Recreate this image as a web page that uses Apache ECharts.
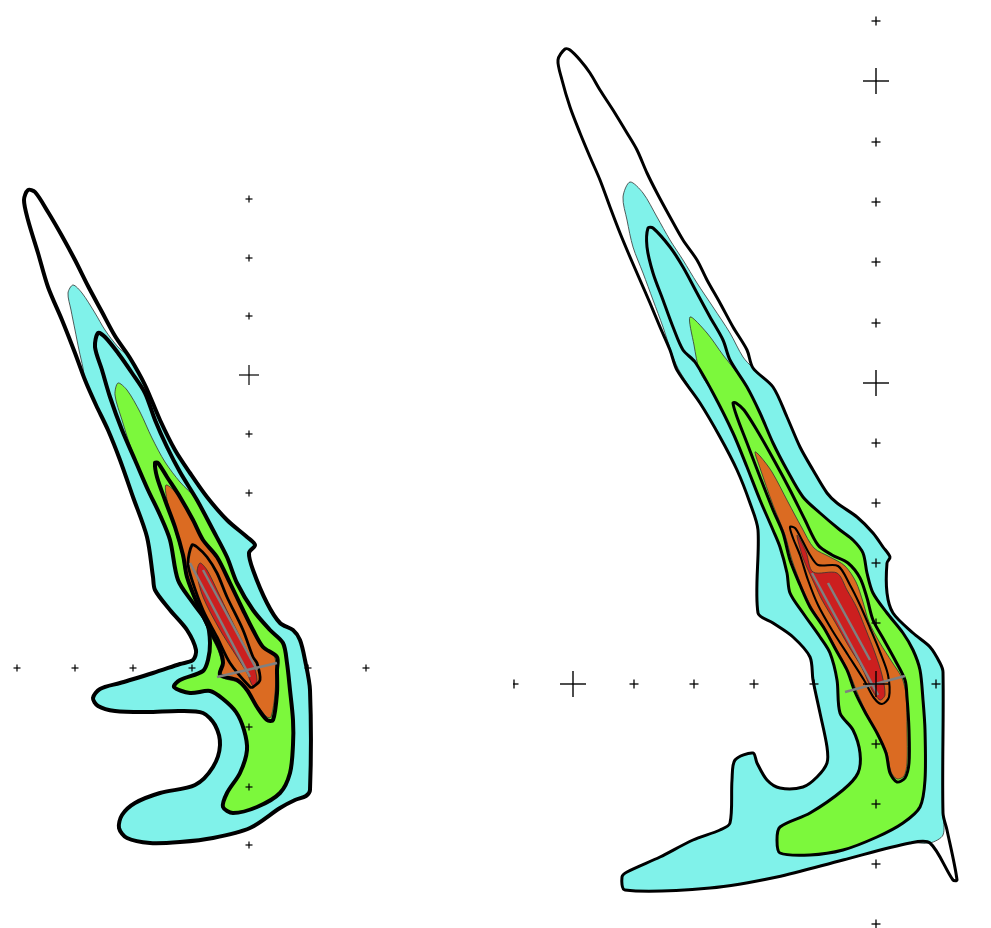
<!DOCTYPE html>
<html><head><meta charset="utf-8">
<script src="https://cdn.jsdelivr.net/npm/echarts@6/dist/echarts.min.js"></script>
<style>html,body{margin:0;padding:0;background:#fff}#c{width:991px;height:928px}</style>
</head><body><div id="c"></div>
<script>
// ---------- LEFT PANEL (picture-plane coordinates) ----------
const leftOuter = [[28,190],[35,192],[48,212],[62,236],[75,260],[88,286],[102,312],[115,336],[130,358],[145,385],[160,420],[175,450],[190,473],[207,497],[227,520],[247,537],[255,545],[249,553],[253,570],[267,603],[280,623],[293,630],[300,640],[305,660],[310,690],[310,790],[306,796],[295,800],[280,808],[250,828],[213,838],[180,842],[150,843],[127,838],[119,828],[122,815],[135,803],[160,793],[195,785],[213,767],[220,745],[215,725],[203,713],[180,711],[147,712],[115,711],[98,706],[93,698],[100,689],[120,683],[153,673],[180,664],[193,660],[196,650],[187,630],[170,610],[155,590],[153,577],[147,537],[133,497],[120,460],[108,430],[96,405],[85,380],[75,353],[62,320],[48,287],[38,253],[28,220],[24,200]];
const leftCyan = [[73,285],[82,293],[95,313],[105,330],[118,347],[130,358],[145,385],[160,420],[175,450],[190,473],[207,497],[227,520],[247,537],[255,545],[249,553],[253,570],[267,603],[280,623],[293,630],[300,640],[305,660],[310,690],[310,790],[306,796],[295,800],[280,808],[250,828],[213,838],[180,842],[150,843],[127,838],[119,828],[122,815],[135,803],[160,793],[195,785],[213,767],[220,745],[215,725],[203,713],[180,711],[147,712],[115,711],[98,706],[93,698],[100,689],[120,683],[153,673],[180,664],[193,660],[196,650],[187,630],[170,610],[155,590],[153,577],[147,537],[133,497],[120,460],[108,430],[96,405],[85,380],[83,368],[79,350],[75,330],[71,310],[68,293]];
const leftRing2 = [[98,333],[105,337],[118,353],[132,373],[145,393],[155,420],[167,447],[180,472],[197,500],[213,530],[227,557],[237,583],[253,610],[270,630],[283,643],[287,663],[290,690],[293,720],[293,745],[290,773],[280,793],[257,807],[233,813],[223,807],[227,793],[240,773],[247,750],[244,730],[236,712],[223,699],[210,691],[190,693],[174,687],[180,680],[203,671],[208,660],[210,643],[207,623],[193,603],[178,580],[170,540],[160,515],[148,490],[135,460],[122,430],[110,397],[102,370],[95,347]];
const leftGreen = [[118,383],[127,390],[140,412],[152,438],[165,462],[180,482],[197,500],[213,530],[227,557],[237,583],[253,610],[270,630],[283,643],[287,663],[290,690],[293,720],[293,745],[290,773],[280,793],[257,807],[233,813],[223,807],[227,793],[240,773],[247,750],[244,730],[236,712],[223,699],[210,691],[190,693],[174,687],[180,680],[203,671],[208,660],[210,643],[207,623],[193,603],[178,580],[170,540],[160,515],[148,490],[140,470],[130,445],[122,420],[115,395]];
const leftRing4 = [[155,463],[157,477],[165,500],[175,527],[183,555],[187,577],[197,603],[210,630],[220,650],[223,663],[220,675],[237,680],[247,690],[257,707],[267,720],[273,720],[277,693],[277,670],[277,657],[263,647],[253,630],[243,610],[230,583],[217,557],[203,540],[193,520],[180,497],[167,477],[158,463]];
const leftOrange = [[166,485],[180,497],[193,520],[203,540],[217,557],[230,583],[243,610],[253,630],[263,647],[275,658],[275,693],[271,717],[267,717],[257,705],[247,690],[237,682],[222,677],[222,664],[218,650],[208,630],[196,603],[186,577],[182,555],[175,530],[168,505]];
const leftRing6 = [[192,545],[197,547],[207,557],[217,573],[227,597],[243,630],[253,657],[257,663],[260,680],[253,687],[250,687],[230,663],[217,637],[203,610],[192,580],[188,563]];
const leftRed = [[200,563],[207,570],[217,590],[230,617],[243,643],[253,663],[257,680],[253,686],[247,673],[237,657],[220,630],[203,597],[197,573]];
const leftGray = [[[190,563],[250,677]],[[203,570],[257,670]],[[217,677],[277,663]]];
const leftSmallCross = [[249,199],[249,258],[249,316],[249,434],[249,493],[249,727],[249,787],[249,845],[17,668],[75,668],[133,668],[192,668],[308,668],[366,668]];
const leftLargeCross = [[249,375]];

// ---------- RIGHT PANEL ----------
const rightOuter = [[565,49],[558,60],[562,80],[570,107],[580,133],[590,157],[600,180],[610,207],[620,233],[630,257],[640,280],[650,303],[660,327],[670,350],[677,370],[700,403],[720,437],[737,470],[750,503],[758,530],[758,613],[773,623],[793,637],[810,657],[813,680],[820,713],[827,747],[827,763],[817,777],[803,787],[780,788],[767,780],[757,763],[753,753],[735,760],[732,780],[730,823],[720,830],[693,840],[660,857],[627,872],[622,877],[625,890],[710,888],[777,877],[843,860],[910,843],[930,843],[953,880],[957,880],[947,830],[943,813],[943,672],[940,663],[930,647],[913,633],[893,613],[887,593],[887,563],[890,557],[883,547],[873,533],[857,517],[837,503],[827,493],[813,470],[800,447],[787,417],[773,387],[753,368],[747,350],[733,327],[720,303],[707,280],[697,260],[683,240],[670,217],[657,193],[647,173],[637,150],[627,133],[613,110],[600,90],[590,73],[580,60],[570,50]];
const rightCyan = [[630,182],[643,193],[657,217],[670,240],[683,260],[697,283],[713,307],[730,333],[743,357],[753,368],[773,387],[787,417],[800,447],[813,470],[827,493],[837,503],[857,517],[873,533],[883,547],[890,557],[887,563],[887,593],[893,613],[913,633],[930,647],[940,663],[943,672],[943,813],[943,835],[930,843],[910,843],[843,860],[777,877],[710,888],[625,890],[622,877],[627,872],[660,857],[693,840],[720,830],[730,823],[732,780],[735,760],[753,753],[757,763],[767,780],[780,788],[803,787],[817,777],[827,763],[827,747],[820,713],[813,680],[810,657],[793,637],[773,623],[758,613],[758,530],[750,503],[737,470],[720,437],[700,403],[680,372],[673,357],[663,327],[653,300],[643,273],[633,247],[627,220],[623,197]];
const rightRing2 = [[648,228],[653,228],[670,247],[683,267],[697,293],[710,317],[723,340],[730,360],[747,387],[760,413],[773,443],[787,470],[803,497],[820,513],[840,530],[853,540],[863,553],[867,573],[873,593],[887,613],[903,633],[913,650],[920,670],[923,700],[925,730],[925,780],[920,807],[903,823],[877,837],[843,850],[810,855],[780,853],[777,840],[780,827],[810,813],[843,790],[858,773],[860,753],[853,730],[840,713],[837,680],[830,653],[820,637],[803,613],[790,593],[787,573],[780,547],[773,530],[760,500],[747,467],[733,433],[713,393],[695,362],[683,350],[673,327],[663,300],[653,273],[647,247]];
const rightGreen = [[690,317],[707,333],[723,355],[731,365],[747,387],[760,413],[773,443],[787,470],[803,497],[820,513],[840,530],[853,540],[863,553],[867,573],[873,593],[887,613],[903,633],[913,650],[920,670],[923,700],[925,730],[925,780],[920,807],[903,823],[877,837],[843,850],[810,855],[780,853],[777,840],[780,827],[810,813],[843,790],[858,773],[860,753],[853,730],[840,713],[837,680],[830,653],[820,637],[803,613],[790,593],[787,573],[780,547],[773,530],[760,500],[747,467],[733,433],[713,393],[700,372],[694,345]];
const rightRing4 = [[733,403],[737,417],[747,443],[760,477],[773,510],[783,533],[790,560],[800,585],[810,607],[824,628],[836,650],[847,670],[855,692],[865,712],[877,733],[886,753],[890,773],[897,782],[905,778],[909,763],[909,730],[907,697],[905,680],[895,660],[884,640],[873,620],[867,598],[860,578],[848,563],[832,555],[818,545],[805,520],[790,490],[775,462],[758,432],[744,410],[736,403]];
const rightOrange = [[755,452],[760,456],[772,472],[788,502],[802,528],[814,548],[830,557],[845,566],[856,582],[863,602],[869,622],[880,643],[892,662],[902,678],[906,695],[907,730],[907,763],[904,776],[897,779],[891,772],[887,753],[877,733],[866,712],[857,692],[849,672],[838,652],[826,630],[812,608],[802,587],[792,560],[785,535],[773,505],[760,468]];
const rightRing6 = [[790,527],[795,528],[802,540],[810,555],[818,565],[838,566],[850,585],[860,605],[870,628],[880,652],[888,675],[889,697],[882,704],[874,698],[864,680],[848,655],[832,630],[818,605],[808,580],[800,555],[793,538]];
const rightRed = [[797,535],[806,552],[813,572],[837,573],[847,590],[857,608],[866,630],[875,653],[882,675],[885,695],[880,700],[872,690],[862,668],[848,645],[835,622],[822,600],[815,585],[803,558]];
const rightGray = [[[812,573],[878,695]],[[828,583],[870,660]],[[845,692],[905,676]]];
const rightSmallCross = [[876,21],[876,142],[876,202],[876,262],[876,323],[876,443],[876,503],[876,563],[876,623],[876,744],[876,804],[876,864],[876,924],[514,684],[634,684],[694,684],[754,684],[814,684],[936,684]];
const rightLargeCross = [[876,81],[876,383],[876,684],[573,684]];

const COL = {cyan:'#80F2EA', green:'#7CF83C', orange:'#DB6B22', red:'#CC1F1F', gray:'#808080'};
const SMOOTH = 0.3;

let zc = 1;
function poly(pts, gi, style) {
  return {type:'custom', xAxisIndex:gi, yAxisIndex:gi, data:[pts[0]], z: zc++, silent:true, animation:false,
    renderItem:(params, api) => ({type:'polygon', shape:{points: pts.map(p => api.coord(p)), smooth: SMOOTH}, style: Object.assign({lineJoin:'round'}, style)})};
}
function lines(segs, gi, style) {
  return {type:'custom', xAxisIndex:gi, yAxisIndex:gi, data:segs.map(s => s[0]), z: zc++, silent:true, animation:false,
    renderItem:(params, api) => ({type:'polyline', shape:{points: segs[params.dataIndex].map(p => api.coord(p))}, style: Object.assign({fill:null}, style)})};
}
function crosses(pts, gi, half, lw) {
  return {type:'custom', xAxisIndex:gi, yAxisIndex:gi, data:pts, z: zc++, silent:true, animation:false, clip:true,
    renderItem:(params, api) => {
      const c = api.coord([api.value(0), api.value(1)]);
      const st = {stroke:'#000', lineWidth:lw};
      return {type:'group', children:[
        {type:'line', shape:{x1:c[0]-half, y1:c[1], x2:c[0]+half, y2:c[1]}, style:st},
        {type:'line', shape:{x1:c[0], y1:c[1]-half, x2:c[0], y2:c[1]+half}, style:st}]};
    }};
}

function panel(gi, d, bw) {
  return [
    poly(d.outer, gi, {fill:'#fff', stroke:null}),
    poly(d.cyan, gi, {fill:COL.cyan, stroke:'#333', lineWidth:0.8}),
    poly(d.green, gi, {fill:COL.green, stroke:'#333', lineWidth:0.8}),
    poly(d.orange, gi, {fill:COL.orange, stroke:'#333', lineWidth:0.8}),
    poly(d.red, gi, {fill:COL.red, stroke:'#333', lineWidth:0.8}),
    poly(d.outer, gi, {fill:null, stroke:'#000', lineWidth:bw}),
    poly(d.ring2, gi, {fill:null, stroke:'#000', lineWidth:bw}),
    poly(d.ring4, gi, {fill:null, stroke:'#000', lineWidth:bw}),
    poly(d.ring6, gi, {fill:null, stroke:'#000', lineWidth:bw*0.7}),
    lines(d.gray, gi, {stroke:COL.gray, lineWidth:2.5})
  ];
}

const series = [].concat(
  panel(0, {outer:leftOuter, cyan:leftCyan, green:leftGreen, orange:leftOrange, red:leftRed, ring2:leftRing2, ring4:leftRing4, ring6:leftRing6, gray:leftGray}, 4),
  panel(1, {outer:rightOuter, cyan:rightCyan, green:rightGreen, orange:rightOrange, red:rightRed, ring2:rightRing2, ring4:rightRing4, ring6:rightRing6, gray:rightGray}, 3),
  [crosses(leftSmallCross, 0, 3.5, 1.2), crosses(leftLargeCross, 0, 10, 1.2),
   crosses(rightSmallCross, 1, 4.5, 1.3), crosses(rightLargeCross, 1, 13, 1.4)]
);

const chart = echarts.init(document.getElementById('c'));
chart.setOption({
  animation:false,
  backgroundColor:'#fff',
  grid:[{left:0, top:0, width:495, height:928}, {left:513, top:0, width:478, height:928}],
  xAxis:[{gridIndex:0, type:'value', min:0, max:495, show:false}, {gridIndex:1, type:'value', min:513, max:991, show:false}],
  yAxis:[{gridIndex:0, type:'value', min:0, max:928, inverse:true, show:false}, {gridIndex:1, type:'value', min:0, max:928, inverse:true, show:false}],
  series: series
});
</script></body></html>
